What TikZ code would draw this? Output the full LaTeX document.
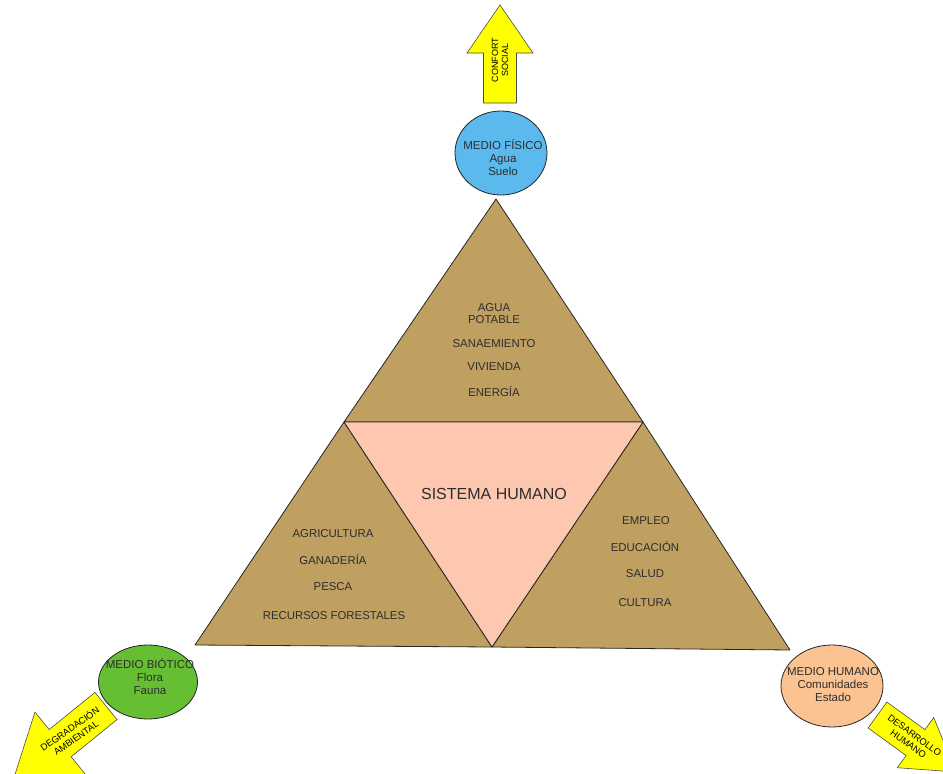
\documentclass[tikz,border=0pt]{standalone}
\usepackage{fontspec}
\setmainfont{Liberation Sans}
\usetikzlibrary{shapes.geometric}
\definecolor{tanfill}{RGB}{192,160,96}
\definecolor{pinkfill}{RGB}{253,199,176}
\definecolor{bluefill}{RGB}{91,185,238}
\definecolor{greenfill}{RGB}{102,191,51}
\definecolor{orangefill}{RGB}{250,195,145}
\definecolor{yel}{RGB}{255,255,0}
\definecolor{txt}{RGB}{45,45,45}
\begin{document}
\begin{tikzpicture}[x=1pt,y=-1pt,
  tri/.style={draw=black!85,line width=0.8pt,fill=tanfill,line join=round},
  center/.style={draw=black!85,line width=0.8pt,fill=pinkfill,line join=round},
  lab/.style={text=txt,font=\fontsize{11.4}{13}\selectfont,inner sep=0pt},
  biglab/.style={text=txt,font=\fontsize{16}{19}\selectfont,inner sep=0pt},
  medio/.style={ellipse,draw=black!85,line width=0.8pt,inner sep=0pt},
  ctext/.style={text=txt,font=\fontsize{11.5}{13}\selectfont,align=center,inner sep=0pt},
  yarrow/.style={draw=black!70,line width=0.6pt,fill=yel,line join=miter},
  arrtext/.style={text=black,font=\fontsize{9}{10}\selectfont,align=center,inner sep=0pt},
  arrtextb/.style={text=black,font=\fontsize{9.3}{10.8}\selectfont,align=center,inner sep=0pt}]
\useasboundingbox (0,0) rectangle (943,774);
\clip (0,0) rectangle (943,774);
\fill[white] (0,0) rectangle (943,774);

% triangle vertices
\coordinate (T) at (496,199);
\coordinate (L) at (344,422);
\coordinate (R) at (643,422);
\coordinate (BL) at (195,645);
\coordinate (BM) at (492,647);
\coordinate (BR) at (790,650);

\draw[tri] (T) -- (L) -- (R) -- cycle;
\draw[tri] (L) -- (BL) -- (BM) -- cycle;
\draw[tri] (R) -- (BM) -- (BR) -- cycle;
\draw[center] (L) -- (R) -- (BM) -- cycle;

% top triangle text
\node[lab] (agua) at (494,308) {AGUA};
\node[lab] (potable) at (494,320) {POTABLE};
\node[lab] (san) at (494,344) {SANAEMIENTO};
\node[lab] (viv) at (494,367) {VIVIENDA};
\node[lab] (ene) at (494,392) {ENERGÍA};

% centre
\node[biglab] (sis) at (494,494) {SISTEMA HUMANO};

% left triangle text
\node[lab] (agr) at (333,534) {AGRICULTURA};
\node[lab] (gan) at (333,560) {GANADERÍA};
\node[lab] (pes) at (333,587) {PESCA};
\node[lab] (rec) at (334,616) {RECURSOS FORESTALES};

% right triangle text
\node[lab] (emp) at (646,521) {EMPLEO};
\node[lab] (edu) at (645,547) {EDUCACIÓN};
\node[lab] (sal) at (645,574) {SALUD};
\node[lab] (cul) at (645,603) {CULTURA};

% medio ellipses
\node[medio,fill=bluefill,minimum width=92,minimum height=84] (fis) at (501,153) {};
\node[ctext] (fist) at (503,158) {MEDIO FÍSICO\\Agua\\Suelo};
\node[medio,fill=greenfill,minimum width=99,minimum height=74] (bio) at (148,682) {};
\node[ctext] (biot) at (150,677) {MEDIO BIÓTICO\\Flora\\Fauna};
\node[medio,fill=orangefill,minimum width=102,minimum height=82] (hum) at (832,686) {};
\node[ctext] (humt) at (833,684.5) {MEDIO HUMANO\\Comunidades\\Estado};

% top arrow
\begin{scope}[shift={(500,103)},rotate=90]
\draw[yarrow] (0,-16.5) -- (50,-16.5) -- (50,-33) -- (98,0) -- (50,33) -- (50,16.5) -- (0,16.5) -- cycle;
\node[arrtext,rotate=90] (confort) at (43,0) {CONFORT\\SOCIAL};
\end{scope}

% bottom-left arrow
\begin{scope}[shift={(106,706)},rotate=219]
\draw[yarrow] (0,-17.5) -- (59,-17.5) -- (59,-40) -- (120,0) -- (59,40) -- (59,17.5) -- (0,17.5) -- cycle;
\node[arrtextb,rotate=35] (degr) at (43,0) {DEGRADACIÓN\\AMBIENTAL};
\end{scope}

% bottom-right arrow
\begin{scope}[shift={(877.5,715)},rotate=-36]
\draw[yarrow] (0,-16) -- (47,-16) -- (47,-31) -- (97,0) -- (47,31) -- (47,16) -- (0,16) -- cycle;
\node[arrtextb,rotate=-36] (desa) at (42,0) {DESARROLLO\\HUMANO};
\end{scope}
\end{tikzpicture}
\end{document}
